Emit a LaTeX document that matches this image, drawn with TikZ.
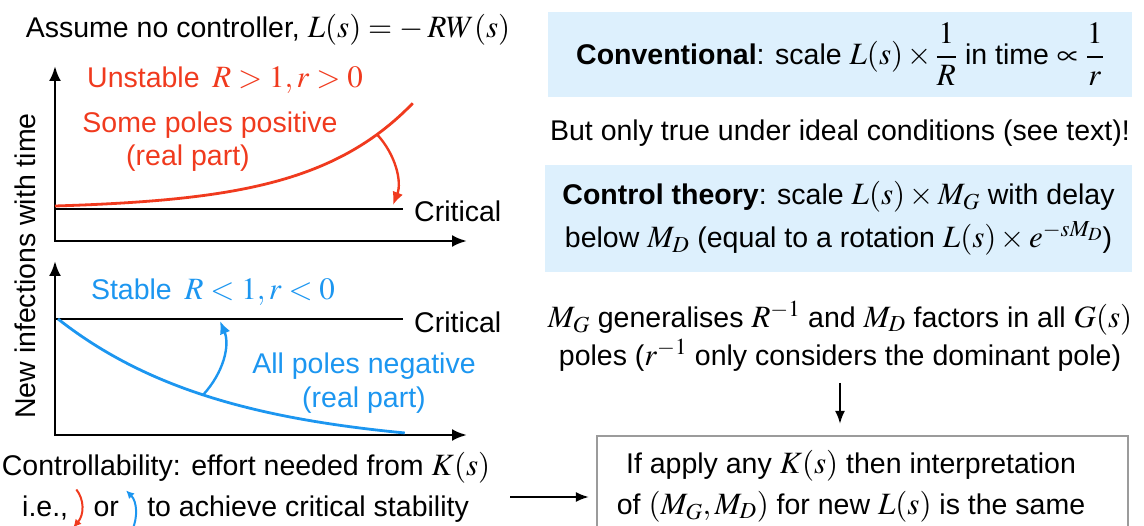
\documentclass[tikz,border=0pt]{standalone}
\usepackage{mathptmx}
\usepackage[no-math]{fontspec}
\setmainfont{Liberation Sans}
\usetikzlibrary{arrows.meta,calc}
\definecolor{cred}{RGB}{240,58,30}
\definecolor{cblue}{RGB}{28,150,240}
\definecolor{boxblue}{RGB}{221,240,253}
\definecolor{boxgray}{RGB}{155,155,155}
\newcommand{\fsz}{\fontsize{28.5}{32}\selectfont}
\newcommand{\mth}[1]{{\fontsize{31}{32}\selectfont$#1$}}
\begin{document}
\begin{tikzpicture}[x=1pt,y=-1pt,
 txt/.style={inner sep=0pt, font=\fsz},
 axisline/.style={line width=2.8pt, {Latex[length=15pt,width=12pt]}-{Latex[length=15pt,width=12pt]}},
 critline/.style={line width=2.4pt},
 curveline/.style={line width=2.8pt},
 bendarrow/.style={line width=2.4pt, -{Latex[length=13pt,width=11pt]}},
 smallarrow/.style={line width=2pt, -{Latex[length=8pt,width=8pt]}},
 flowarrow/.style={line width=2pt, -{Latex[length=13pt,width=10pt]}},
 bluebox/.style={fill=boxblue, inner sep=0pt, align=center},
 graybox/.style={draw=boxgray, line width=2.2pt, inner sep=0pt},
]
\useasboundingbox (0,0) rectangle (1144,526);

% title
\node[txt] (title) at (268,30) {Assume no controller, \mth{L(s) = -\:RW(s)}};

% y label
\node[txt, rotate=90] (ylab) at (25,266) {New infections with time};

% top plot
\coordinate (y1top) at (55,66);
\coordinate (o1) at (55,241);
\coordinate (x1end) at (467,241);
\draw[axisline] (y1top) -- (o1) -- (x1end);
\coordinate (c1a) at (55,209);
\coordinate (c1b) at (403,209);
\draw[critline] (c1a) -- (c1b);
\node[txt, anchor=west] (crit1) at (414,211) {Critical};
\draw[curveline, cred] plot[domain=0:1, samples=80] ({55+358*\x}, {206-103*(exp(3.5*\x)-1)/(exp(3.5)-1)});
\coordinate (ra1) at (377,134.4);
\coordinate (ra2) at (393,205);
\draw[bendarrow, cred] (ra1) .. controls (396,155) and (402,182) .. (ra2);
\node[txt, text=cred] (unst) at (225,80) {Unstable \,\mth{R>1, r>0}};
\node[txt, text=cred] (somep) at (210,125) {Some poles positive};
\node[txt, text=cred] (rp1) at (188,158) {(real part)};

% bottom plot
\coordinate (y2top) at (55,261);
\coordinate (o2) at (55,435);
\coordinate (x2end) at (467,435);
\draw[axisline] (y2top) -- (o2) -- (x2end);
\coordinate (c2a) at (55,319);
\coordinate (c2b) at (403,319);
\draw[critline] (c2a) -- (c2b);
\node[txt, anchor=west] (crit2) at (414,322) {Critical};
\draw[curveline, cblue] plot[domain=0:1, samples=80] ({58+347*\x}, {319+114*(1-exp(-2.1*\x))/(1-exp(-2.1))});
\coordinate (ba1) at (203,395);
\coordinate (ba2) at (220,321);
\draw[bendarrow, cblue] (ba1) .. controls (224,372) and (230,345) .. (ba2);
\node[txt, text=cblue] (stab) at (213,292) {Stable \,\mth{R<1, r<0}};
\node[txt, text=cblue] (allp) at (364,366) {All poles negative};
\node[txt, text=cblue] (rp2) at (364,400) {(real part)};

% bottom text
\node[txt] (ctrlb) at (246,468) {Controllability: effort needed from \mth{K(s)}};
\node[txt, anchor=base west] (ie) at (22,517) {i.e.,};
\node[txt, anchor=base west] (or) at ($(ie.base east)+(25,0)$) {or};
\node[txt, anchor=base west] (rest) at ($(or.base east)+(28,0)$) {to achieve critical stability};
\coordinate (sr1) at ($(ie.east)+(8,-19)$);
\coordinate (sr2) at ($(ie.east)+(5,19)$);
\draw[smallarrow, cred] (sr1) .. controls ($(ie.east)+(16,-9)$) and ($(ie.east)+(16,6)$) .. (sr2);
\coordinate (sb1) at ($(or.east)+(13,21)$);
\coordinate (sb2) at ($(or.east)+(7,-19)$);
\draw[smallarrow, cblue] (sb1) .. controls ($(or.east)+(19,8)$) and ($(or.east)+(18,-8)$) .. (sb2);

% right side
\node[bluebox, minimum width=584pt, minimum height=85pt, font=\fsz] (conv) at (840,54.5)
  {\textbf{Conventional}: scale \mth{L(s)\times\displaystyle\frac{1}{R}} in time \mth{\propto\displaystyle\frac{1}{r}}};
\node[txt] (ideal) at (840,133) {But only true under ideal conditions (see text)!};
\node[bluebox, minimum width=587pt, minimum height=107pt, font=\fontsize{28.5}{43}\selectfont] (ctrl) at (838.5,218.5)
  {\textbf{Control theory}: scale \mth{L(s)\times M_G} with delay\\ below \mth{M_D} (equal to a rotation \mth{L(s)\times e^{-sM_D}})};
\node[txt, align=center, font=\fontsize{28.5}{38}\selectfont] (gen) at (840,336)
  {\mth{M_G} generalises \mth{R^{-1}} and \mth{M_D} factors in all \mth{G(s)}\\ poles (\mth{r^{-1}} only considers the dominant pole)};
\node[graybox, minimum width=531pt, minimum height=99pt] (box3) at (862.5,485.5) {};
\node[txt, align=center, font=\fontsize{28.5}{41}\selectfont] (box3txt) at (851,486)
  {If apply any \mth{K(s)} then interpretation\\ of \mth{(M_G, M_D)} for new \mth{L(s)} is the same};

\coordinate (dtop) at (840,383);
\draw[flowarrow, shorten >=11pt] (dtop) -- (dtop |- box3.north);
\coordinate (hl) at (510,497);
\draw[flowarrow, shorten >=7pt] (hl) -- (hl -| box3.west);
\end{tikzpicture}
\end{document}
